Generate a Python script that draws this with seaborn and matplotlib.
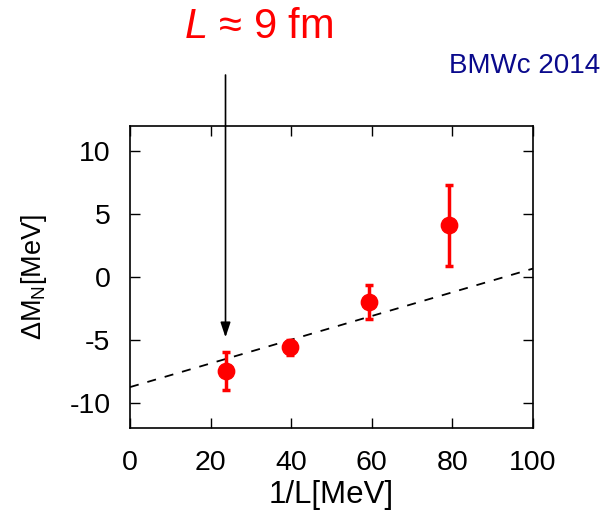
import numpy as np
import pandas as pd
import matplotlib
matplotlib.use("Agg")
import matplotlib.pyplot as plt
import seaborn as sns

inv_L = [23.7, 39.6, 59.4, 79.1]
delta_M = [-7.45, -5.6, -2.0, 4.1]
err = [1.5, 0.6, 1.37, 3.2]
fit_x = [0, 100]
fit_y = [-8.75, 0.67]
xticks = [0, 20, 40, 60, 80, 100]
yticks = [-10, -5, 0, 5, 10]

sns.set_style("ticks")
plt.rcParams['font.family'] = ['Liberation Sans', 'DejaVu Sans']
plt.rcParams['mathtext.fontset'] = 'custom'
plt.rcParams['mathtext.rm'] = 'Liberation Sans'
plt.rcParams['mathtext.it'] = 'Liberation Sans:italic'
plt.rcParams['text.color'] = 'black'
plt.rcParams['axes.labelcolor'] = 'black'
plt.rcParams['xtick.color'] = 'black'
plt.rcParams['ytick.color'] = 'black'
plt.rcParams['axes.edgecolor'] = 'black'

fig = plt.figure(figsize=(6.05, 5.11), dpi=100)
ax = fig.add_axes([130/605, 1-428/511, (533-130)/605, (428-126)/511])

df = pd.DataFrame({"x": inv_L, "y": delta_M, "e": err})
fit = pd.DataFrame({"x": fit_x, "y": fit_y})

sns.lineplot(data=fit, x="x", y="y", ax=ax, color="black", linestyle=(0, (5, 5)), linewidth=1.3)
ax.errorbar(df["x"], df["y"], yerr=df["e"], fmt="none", ecolor="red", elinewidth=2.5, capsize=2.6, capthick=2.5, zorder=3)
sns.scatterplot(data=df, x="x", y="y", ax=ax, color="red", s=140, edgecolor="red", zorder=4)

ax.set_xlim(0, 100)
ax.set_ylim(-12, 12)
ax.set_xticks(xticks)
ax.set_yticks(yticks)
ax.set_xticklabels([str(t) for t in xticks])
ax.set_yticklabels([str(t) for t in yticks])
ax.tick_params(direction="in", length=7, width=1, top=True, right=True, labelsize=20.5)
ax.tick_params(axis="y", pad=14)
ax.tick_params(axis="x", pad=16)
for s in ax.spines.values():
    s.set_linewidth(1.2)
ax.set_xlabel("1/L[MeV]", fontsize=22.5, labelpad=3)
ax.set_ylabel(r"ΔM$_\mathregular{N}$[MeV]", fontsize=19.5, labelpad=15)

ax.annotate("", xy=(inv_L[0], -4.8), xycoords="data",
            xytext=(inv_L[0], 511-75), textcoords=("data", "figure pixels"),
            arrowprops=dict(arrowstyle="-|>,head_length=0.9,head_width=0.3", color="black", lw=1.2, shrinkA=0, shrinkB=0))

fig.text(259/605, 1-27/511, r"$L$ ≈ 9 fm", color="red", fontsize=30, ha="center", va="center")
fig.text(600/605, 1-66/511, "BMWc 2014", color="#0a0a8c", fontsize=20, ha="right", va="center")

fig.savefig("out.png", dpi=100)
